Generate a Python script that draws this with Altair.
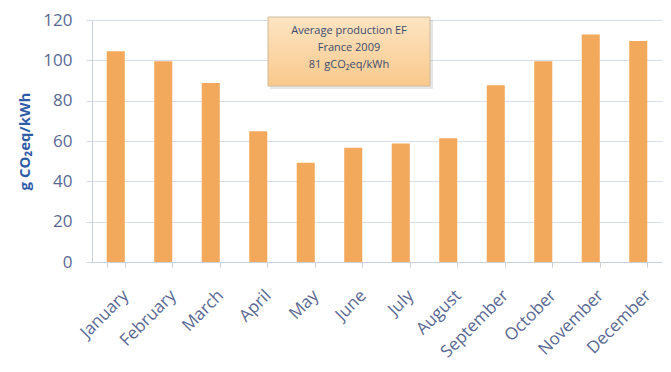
import altair as alt
import pandas as pd

# Monthly emission factor of electricity production, France 2009
months = ["January", "February", "March", "April", "May", "June",
          "July", "August", "September", "October", "November", "December"]
ef_values = [104.5, 99.5, 88.8, 64.8, 49.2, 56.6, 58.8, 61.4, 87.6, 99.6, 112.8, 109.6]

y_ticks = [0, 20, 40, 60, 80, 100, 120]
note_lines = ["Average production EF", "France 2009", "81 gCO\u2082eq/kWh"]

df = pd.DataFrame({"month": months, "ef": ef_values})

W, H = 570, 242
FONT = "Open Sans"
LABEL_BLUE = "#5a6893"

bars = alt.Chart(df).mark_bar(color="#f2a95c").encode(
    x=alt.X(
        "month:N",
        sort=months,
        scale=alt.Scale(paddingInner=0.62, paddingOuter=0.31),
        axis=alt.Axis(
            title=None,
            labelAngle=-45,
            labelAlign="right",
            labelBaseline="top",
            labelFont=FONT,
            labelFontSize=17,
            labelColor=LABEL_BLUE,
            labelPadding=20,
            labelOffset=4,
            tickBand="extent",
            tickSize=5,
            tickColor="#c9cfdb",
            domainColor="#c9cfdb",
            grid=False,
        ),
    ),
    y=alt.Y(
        "ef:Q",
        scale=alt.Scale(domain=[0, 120], nice=False),
        axis=alt.Axis(
            title="g CO\u2082eq/kWh",
            titleFont=FONT,
            titleFontSize=15,
            titleFontWeight="bold",
            titleColor="#2f5ca6",
            titleAngle=-90,
            titleAlign="center",
            titleBaseline="middle",
            titleX=-68,
            titleY=121,
            values=y_ticks,
            labelFont=FONT,
            labelFontSize=17,
            labelColor=LABEL_BLUE,
            labelPadding=14,
            tickSize=6,
            tickColor="#d3d9e4",
            domainColor="#c9cfdb",
            gridColor="#d9dfea",
        ),
    ),
)

# Annotation box with the yearly average
shadow = alt.Chart(df).mark_rect(color="#9a9a9a", opacity=0.25).encode(
    x=alt.value(178), x2=alt.value(341), y=alt.value(0), y2=alt.value(69)
).transform_filter(alt.datum.month == "January")

box = alt.Chart(df).mark_rect(
    fill=alt.Gradient(
        gradient="linear",
        stops=[alt.GradientStop(color="#fde4c2", offset=0),
               alt.GradientStop(color="#f9c98c", offset=1)],
        x1=0, x2=0, y1=0, y2=1,
    ),
    stroke="#cdbb9c",
    strokeWidth=1,
).encode(
    x=alt.value(176), x2=alt.value(338), y=alt.value(-3), y2=alt.value(66)
).transform_filter(alt.datum.month == "January")

note = alt.Chart(df).mark_text(
    font=FONT, fontSize=11, color="#3e4c6e", lineHeight=17, baseline="top", align="center"
).encode(
    x=alt.value(257), y=alt.value(5), text=alt.value(note_lines)
).transform_filter(alt.datum.month == "January")

chart = alt.layer(bars, shadow, box, note).properties(
    width=W,
    height=H,
    padding={"left": 92, "top": 20, "right": 9, "bottom": 110},
    autosize=alt.AutoSizeParams(type="none"),
    background="white",
).configure_view(stroke=None)

chart.save("out.html", embed_options={"renderer": "svg", "actions": False})
